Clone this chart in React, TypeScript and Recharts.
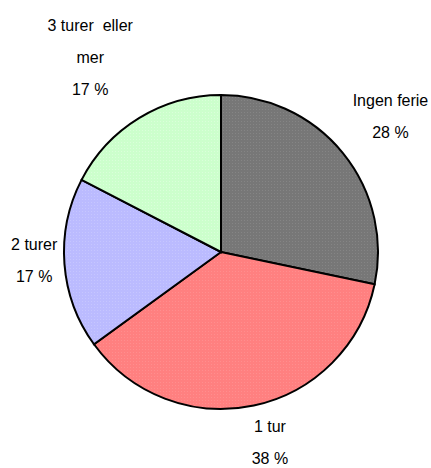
import React from "react";
import { PieChart, Pie, Cell } from "recharts";

const categories = ["Ingen ferie", "1 tur", "2 turer", "3 turer  eller mer"];
const values = [28.3, 36.7, 17.6, 17.4];
const percentLabels = ["28 %", "38 %", "17 %", "17 %"];
const labelLines = [["Ingen ferie"], ["1 tur"], ["2 turer"], ["3 turer  eller", "mer"]];
const colors = ["#777777", "#FF8080", "#BBBBFF", "#CCFFCC"];
const dotColors = ["#858585", "#FF8E8E", "#C6C6FF", "#DAFFDA"];

const data = categories.map((name, i) => ({ name, value: values[i] }));

const LABEL_R = [60, 39, 30, 78];
const LABEL_DA = [-0.4, 2.4, -1.9, 2.5];

const RADIAN = Math.PI / 180;

const renderLabel = (props: any) => {
  const { cx, cy, midAngle, outerRadius, index } = props;
  const r = outerRadius + LABEL_R[index];
  const a = (midAngle + LABEL_DA[index]) * RADIAN;
  const x = cx + r * Math.cos(a);
  const y = cy - r * Math.sin(a);
  const lines = [...labelLines[index], percentLabels[index]];
  const lh = 32;
  const y0 = y - ((lines.length - 1) * lh) / 2;
  return (
    <text
      key={`l-${index}`}
      x={x}
      y={y0}
      textAnchor="middle"
      dominantBaseline="central"
      fontFamily="'Liberation Sans', Arial, sans-serif"
      fontSize={16}
      fill="#000"
      style={{ whiteSpace: "pre" }}
    >
      {lines.map((t, k) => (
        <tspan key={k} x={x} y={y0 + k * lh} dominantBaseline="central">
          {t}
        </tspan>
      ))}
    </text>
  );
};

export default function App() {
  return (
    <div style={{ position: "absolute", left: 0, top: 0, width: 431, height: 468, background: "#fff" }}>
      <PieChart width={431} height={468} margin={{ top: 0, right: 0, bottom: 0, left: 0 }}>
        <defs>
          {colors.map((c, i) => (
            <pattern key={i} id={`pat${i}`} width="3" height="3" patternUnits="userSpaceOnUse">
              <rect width="3" height="3" fill={c} />
              <rect x="1" y="1" width="1" height="1" fill={dotColors[i]} />
            </pattern>
          ))}
        </defs>
        <Pie
          data={data}
          dataKey="value"
          nameKey="name"
          cx={221}
          cy={252}
          outerRadius={157}
          startAngle={90}
          endAngle={-270}
          stroke="#000"
          strokeWidth={2}
          label={renderLabel}
          labelLine={false}
          isAnimationActive={false}
        >
          {data.map((d, i) => (
            <Cell key={d.name} fill={`url(#pat${i})`} />
          ))}
        </Pie>
      </PieChart>
    </div>
  );
}
